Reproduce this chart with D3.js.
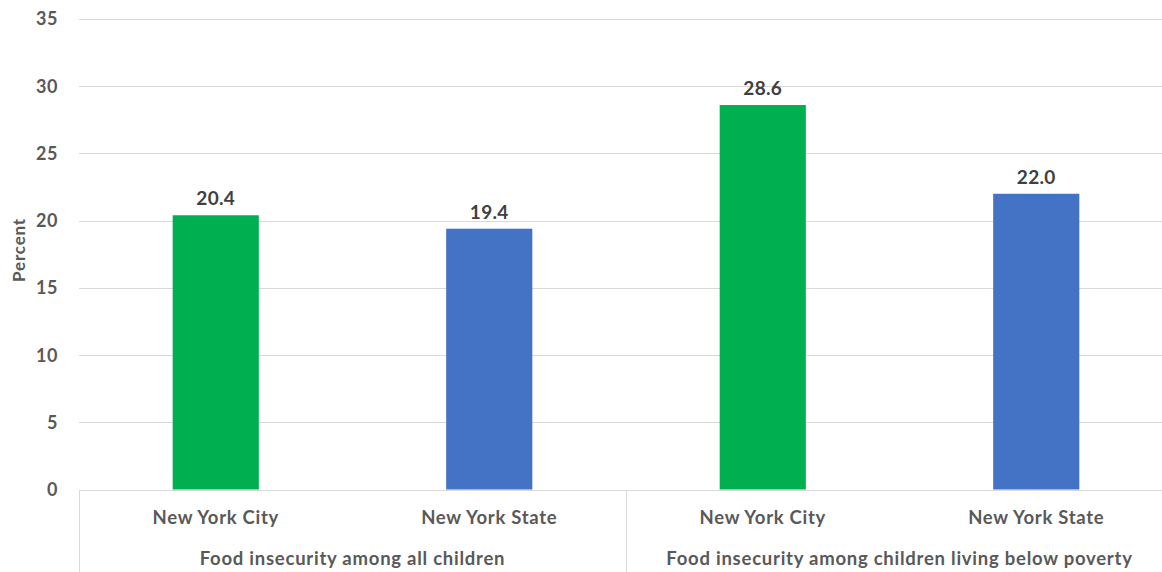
<!DOCTYPE html>
<html><head><meta charset="utf-8">
<script src="https://cdn.jsdelivr.net/npm/d3@7"></script>
<style>body{margin:0;background:#fff}svg{display:block}text{font-family:Lato,"Open Sans",sans-serif;font-weight:bold}</style>
</head><body>
<svg id="c" width="1162" height="572"></svg>
<script>
const groups = ["Food insecurity among all children", "Food insecurity among children living below poverty"];
const places = ["New York City", "New York State"];
const values = [20.4, 19.4, 28.6, 22.0];
const colors = ["#00B050", "#4472C4"];
const yTicks = [0, 5, 10, 15, 20, 25, 30, 35];

const svg = d3.select("#c");
const plotL = 79, plotR = 1173, plotT = 19, plotB = 489.5;
const cats = d3.range(values.length);
const x = d3.scaleBand().domain(cats).range([plotL, plotR]).paddingInner(0).paddingOuter(0);
const y = d3.scaleLinear().domain([0, 35]).range([plotB, plotT]);
const barW = x.bandwidth() * 0.315;

// gridlines
svg.append("g").selectAll("line").data(yTicks).join("line")
  .attr("x1", plotL).attr("x2", plotR)
  .attr("y1", d => Math.round(y(d)) + 0.5).attr("y2", d => Math.round(y(d)) + 0.5)
  .attr("stroke", "#d9d9d9").attr("stroke-width", 1);

// y tick labels
svg.append("g").selectAll("text").data(yTicks).join("text")
  .attr("x", 58).attr("y", d => y(d)).attr("dy", "0.36em")
  .attr("text-anchor", "end").attr("font-size", 18).attr("letter-spacing", 0.5).attr("fill", "#595959")
  .text(d => d);

// bars
svg.append("g").selectAll("rect").data(values).join("rect")
  .attr("x", (d, i) => x(i) + (x.bandwidth() - barW) / 2)
  .attr("width", barW)
  .attr("y", d => y(d)).attr("height", d => y(0) - y(d))
  .attr("fill", (d, i) => colors[i % 2]);

// value labels
svg.append("g").selectAll("text").data(values).join("text")
  .attr("x", (d, i) => x(i) + x.bandwidth() / 2)
  .attr("y", d => y(d) - 10)
  .attr("text-anchor", "middle").attr("font-size", 19).attr("letter-spacing", 0.3).attr("fill", "#404040")
  .text(d => d.toFixed(1));

// axis baseline
svg.append("line").attr("x1", plotL).attr("x2", plotR).attr("y1", 490.5).attr("y2", 490.5)
  .attr("stroke", "#d9d9d9");

// vertical separators
const seps = [0, 2, 4].map(k => k === 4 ? plotR : x(k));
svg.append("g").selectAll("line").data(seps).join("line")
  .attr("x1", d => Math.round(d) + 0.5).attr("x2", d => Math.round(d) + 0.5)
  .attr("y1", 490).attr("y2", 572).attr("stroke", "#d9d9d9");

// category labels
svg.append("g").selectAll("text").data(values).join("text")
  .attr("x", (d, i) => x(i) + x.bandwidth() / 2).attr("y", 524)
  .attr("text-anchor", "middle").attr("font-size", 18.5).attr("letter-spacing", 0.7).attr("fill", "#595959")
  .text((d, i) => places[i % 2]);

// group labels
svg.append("g").selectAll("text").data(groups).join("text")
  .attr("x", (d, i) => (x(i * 2) + x(i * 2 + 1) + x.bandwidth()) / 2).attr("y", 565)
  .attr("text-anchor", "middle").attr("font-size", 18.5).attr("letter-spacing", 0.75).attr("fill", "#595959")
  .text(d => d);

// y axis title
svg.append("text").attr("transform", `translate(25,250) rotate(-90)`)
  .attr("text-anchor", "middle").attr("font-size", 17).attr("letter-spacing", 0.8).attr("fill", "#595959")
  .text("Percent");
</script>
</body></html>
